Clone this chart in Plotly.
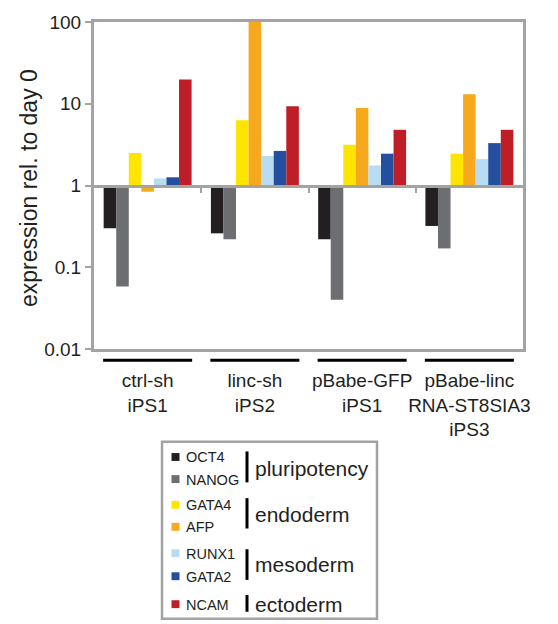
import plotly.graph_objects as go

groups = ["ctrl-sh<br>iPS1", "linc-sh<br>iPS2", "pBabe-GFP<br>iPS1", "pBabe-linc<br>RNA-ST8SIA3<br>iPS3"]
genes = ["OCT4", "NANOG", "GATA4", "AFP", "RUNX1", "GATA2", "NCAM"]
colors = ["#231f20", "#6d6e71", "#fde500", "#f6a91e", "#b8ddf3", "#244f9f", "#bf1e27"]

OCT4 = [0.30, 0.26, 0.22, 0.32]
NANOG = [0.058, 0.22, 0.040, 0.17]
GATA4 = [2.5, 6.3, 3.15, 2.45]
AFP = [0.84, 100, 8.9, 13.1]
RUNX1 = [1.22, 2.3, 1.76, 2.1]
GATA2 = [1.26, 2.65, 2.45, 3.3]
NCAM = [19.8, 9.3, 4.8, 4.8]
values = [OCT4, NANOG, GATA4, AFP, RUNX1, GATA2, NCAM]

lineage_labels = ["pluripotency", "endoderm", "mesoderm", "ectoderm"]
y_title = "expression rel. to day 0"

W, H = 558, 624
L, R, T, B = 94, 35, 18, 275
PW, PH = W - L - R, H - T - B
FRAME = "#a3a3a3"
FONT = "Liberation Sans, Arial, Helvetica, sans-serif"

def px(x):
    return (x - L) / PW

def py(y):
    return (H - B - y) / PH

xs = list(range(len(groups)))
fig = go.Figure()
for g, c, v in zip(genes, colors, values):
    fig.add_trace(go.Bar(
        x=xs, y=[val - 1 for val in v], base=[1] * len(v), name=g,
        marker=dict(color=c, line=dict(width=0)), showlegend=False,
        customdata=v, hovertemplate=g + ": %{customdata}<extra></extra>",
    ))

# invisible trace to attach the baseline axis at y = 1
fig.add_trace(go.Scatter(x=[0], y=[1], xaxis="x2", mode="markers",
                         marker=dict(opacity=0), showlegend=False, hoverinfo="skip"))

shapes = []
annotations = []
# y-axis title
annotations.append(dict(text=y_title, xref="paper", yref="paper", x=px(29), y=py(186),
                        xanchor="center", yanchor="middle", textangle=-90, showarrow=False,
                        font=dict(size=23, color="#231f20", family=FONT)))
# group underline bars
for i in xs:
    shapes.append(dict(type="line", xref="x", yref="paper", x0=i - 0.415, x1=i + 0.415,
                       y0=py(360.5), y1=py(360.5), line=dict(color="black", width=3)))

# legend box
shapes.append(dict(type="rect", xref="paper", yref="paper", x0=px(162), x1=px(377),
                   y0=py(443), y1=py(622), line=dict(color=FRAME, width=2.5), fillcolor="white"))
entry_y = [458.3, 480.7, 506.7, 529, 555.7, 579, 607.3]
for gi, (g, c) in enumerate(zip(genes, colors)):
    yc = entry_y[gi]
    shapes.append(dict(type="rect", xref="paper", yref="paper", x0=px(171.5), x1=px(179.5),
                       y0=py(yc + 4), y1=py(yc - 4), line=dict(width=0), fillcolor=c))
    annotations.append(dict(text=g, xref="paper", yref="paper", x=px(183.5), y=py(yc + 0.5),
                            xanchor="left", yanchor="middle", showarrow=False,
                            font=dict(size=14.5, color="#231f20", family=FONT)))
bar_spans = [(452.7, 484), (500, 530.7), (551.7, 582.7), (598, 615)]
label_y = [469.5, 516.7, 566.7, 607.7]
for lab, (y0, y1), ly in zip(lineage_labels, bar_spans, label_y):
    shapes.append(dict(type="line", xref="paper", yref="paper", x0=px(247), x1=px(247),
                       y0=py(y0), y1=py(y1), line=dict(color="black", width=3)))
    annotations.append(dict(text=lab, xref="paper", yref="paper", x=px(253), y=py(ly),
                            xanchor="left", yanchor="middle", showarrow=False,
                            font=dict(size=21, color="#231f20", family=FONT)))

fig.update_layout(
    width=W, height=H,
    margin=dict(l=L, r=R, t=T, b=B, pad=0),
    paper_bgcolor="white", plot_bgcolor="white",
    barmode="group", bargap=0.18, bargroupgap=0,
    font=dict(family=FONT, color="#231f20"),
    shapes=shapes, annotations=annotations,
    showlegend=False,
    xaxis=dict(
        range=[-0.5, 3.5], tickmode="array", tickvals=xs, ticktext=groups,
        ticks="", showline=True, mirror=True, linecolor=FRAME, linewidth=3,
        showgrid=False, zeroline=False, tickangle=0,
        tickfont=dict(size=19, family=FONT, color="#231f20"),
        ticklabelstandoff=12,
    ),
    xaxis2=dict(
        overlaying="x", anchor="free", position=0.5, range=[-0.5, 3.5],
        tickmode="array", tickvals=[0.5, 1.5, 2.5], ticks="outside", ticklen=5,
        tickwidth=2, tickcolor=FRAME, showticklabels=False, showline=True,
        linecolor=FRAME, linewidth=3, showgrid=False, zeroline=False,
    ),
    yaxis=dict(
        type="log", range=[-2, 2], tickmode="array",
        tickvals=[0.01, 0.1, 1, 10, 100], ticktext=["0.01", "0.1", "1", "10", "100"],
        ticks="outside", ticklen=6, tickwidth=2, tickcolor=FRAME,
        showline=True, mirror=True, linecolor=FRAME, linewidth=3,
        showgrid=False, zeroline=False,
        tickfont=dict(size=19, family=FONT, color="#231f20"),
    ),
)

fig.write_html("out.html")
